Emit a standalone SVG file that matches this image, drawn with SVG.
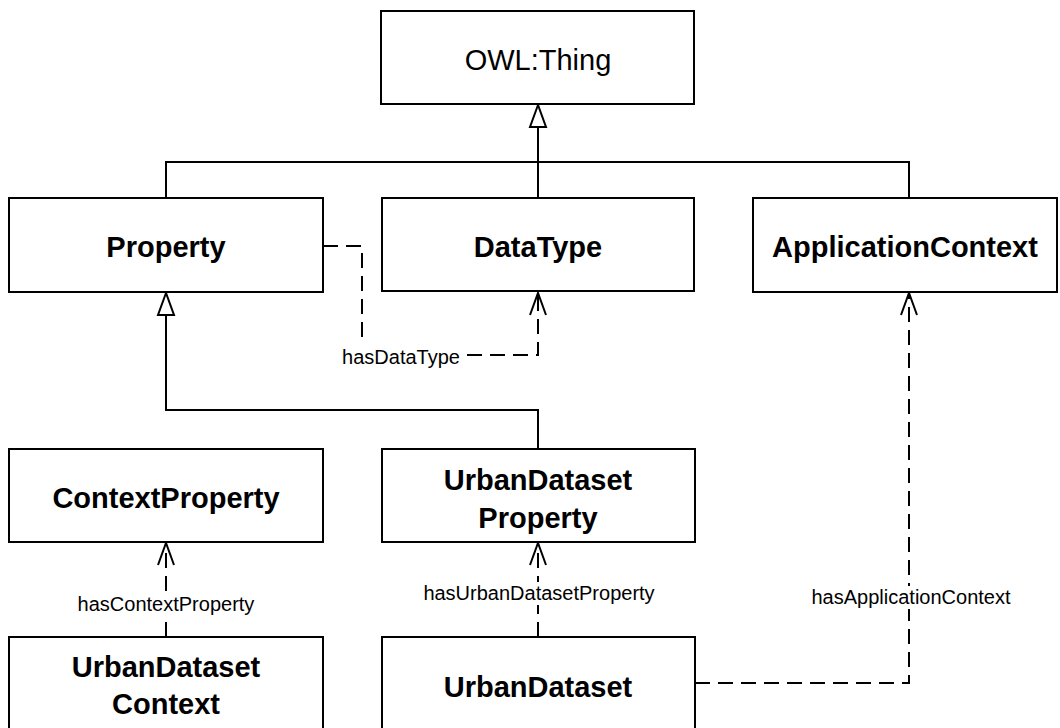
<svg xmlns="http://www.w3.org/2000/svg" width="1060" height="728" viewBox="0 0 1060 728">
<style>
.box{fill:#fff;stroke:#000;stroke-width:2}
.t{font-family:"Liberation Sans",Arial,sans-serif;font-weight:bold;font-size:29px;text-anchor:middle;fill:#000}
.tr{font-family:"Liberation Sans",Arial,sans-serif;font-size:29px;text-anchor:middle;fill:#000}
.lbl{font-family:"Liberation Sans",Arial,sans-serif;font-size:20px;text-anchor:middle;fill:#000}
.solid{fill:none;stroke:#000;stroke-width:2}
.dash{fill:none;stroke:#000;stroke-width:2;stroke-dasharray:15 8}
.head{fill:none;stroke:#000;stroke-width:2}
.tri{fill:#fff;stroke:#000;stroke-width:2}
</style>
<rect width="1060" height="728" fill="#fff"/>
<g id="connectors">
  <path class="solid" d="M538,198 V127 M166,198 V162 H909 V198"/>
  <polygon class="tri" points="538,105 530,127 546,127"/>
  <path class="solid" d="M166,315 V410 H538 V449"/>
  <polygon class="tri" points="166,293 158,315 174,315"/>
  <path class="dash" d="M323,246 H362 V355 H538 V293"/>
  <path class="head" d="M530,315 L538,293 L546,315"/>
  <path class="dash" d="M166,637 V543"/>
  <path class="head" d="M158,565 L166,543 L174,565"/>
  <path class="dash" d="M538,637 V543"/>
  <path class="head" d="M530,565 L538,543 L546,565"/>
  <path class="dash" d="M695,683 H909 V293"/>
  <path class="head" d="M901,315 L909,293 L917,315"/>
  <rect x="341" y="344" width="120" height="23" fill="#fff"/>
  <text class="lbl" x="401" y="364">hasDataType</text>
  <rect x="70" y="593" width="192" height="23" fill="#fff"/>
  <text class="lbl" x="166" y="611">hasContextProperty</text>
  <rect x="420" y="582" width="238" height="23" fill="#fff"/>
  <text class="lbl" x="539" y="600">hasUrbanDatasetProperty</text>
  <rect x="806" y="586" width="210" height="23" fill="#fff"/>
  <text class="lbl" x="911" y="604">hasApplicationContext</text>
</g>
<g id="owl-thing">
  <rect class="box" x="381" y="11" width="313" height="93"/>
  <text class="tr" x="538" y="70">OWL:Thing</text>
</g>
<g id="property">
  <rect class="box" x="9" y="198" width="314" height="94"/>
  <text class="t" x="166" y="257">Property</text>
</g>
<g id="datatype">
  <rect class="box" x="382" y="198" width="312" height="93"/>
  <text class="t" x="538" y="257">DataType</text>
</g>
<g id="application-context">
  <rect class="box" x="753" y="198" width="304" height="94"/>
  <text class="t" x="905" y="257">ApplicationContext</text>
</g>
<g id="context-property">
  <rect class="box" x="9" y="449" width="314" height="93"/>
  <text class="t" x="166" y="508">ContextProperty</text>
</g>
<g id="urbandataset-property">
  <rect class="box" x="382" y="449" width="313" height="93"/>
  <text class="t" x="538" y="490">UrbanDataset</text>
  <text class="t" x="538" y="528">Property</text>
</g>
<g id="urbandataset-context">
  <rect class="box" x="9" y="637" width="314" height="95"/>
  <text class="t" x="166" y="677">UrbanDataset</text>
  <text class="t" x="166" y="714">Context</text>
</g>
<g id="urbandataset">
  <rect class="box" x="382" y="637" width="313" height="95"/>
  <text class="t" x="538" y="697">UrbanDataset</text>
</g>
</svg>
